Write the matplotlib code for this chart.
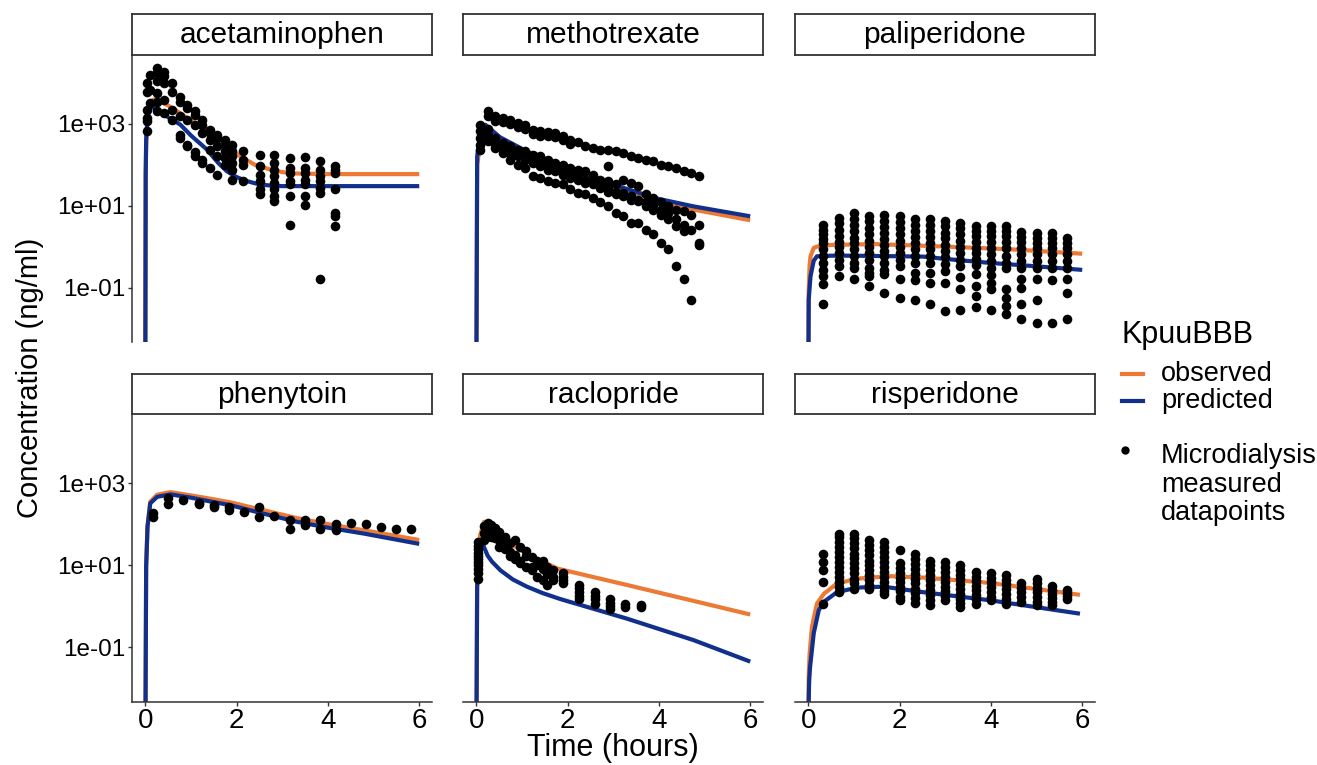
import matplotlib
matplotlib.use("Agg")
import matplotlib.pyplot as plt
from matplotlib.lines import Line2D
import numpy as np

plt.rcParams['font.family'] = ['Liberation Sans', 'DejaVu Sans']

drugs = ["acetaminophen", "methotrexate", "paliperidone", "phenytoin", "raclopride", "risperidone"]
ytick_vals = [0.1, 10, 1000]
ytick_labels = ["1e-01", "1e+01", "1e+03"]
xtick_vals = [0, 2, 4, 6]
legend_title = "KpuuBBB"
legend_lines = ["observed", "predicted"]
legend_dots = "Microdialysis\nmeasured\ndatapoints"

# ---- model lines (KpuuBBB observed / predicted) ----
acet_obs_t = [0, 0.01, 0.02, 0.05, 0.1, 0.18, 0.3, 0.5, 0.77, 1.0, 1.25, 1.49, 1.75, 2.08, 2.4, 2.74, 3.0, 3.32, 4.0, 5.0, 6.0]
acet_obs_c = [1e-4, 60, 300, 1500, 3000, 3900, 3700, 2800, 1800, 1200, 760, 490, 290, 160, 100, 76, 66, 61, 59, 59, 59]
acet_pred_t = [0, 0.01, 0.02, 0.05, 0.1, 0.15, 0.3, 0.5, 0.77, 1.0, 1.35, 1.6, 1.79, 2.0, 2.22, 2.5, 2.74, 3.0, 4.0, 5.0, 6.0]
acet_pred_c = [1e-4, 60, 400, 1500, 2300, 2600, 2000, 1450, 950, 520, 235, 110, 69, 50, 40, 33, 31, 30, 30, 30, 30]

mtx_obs_t = [0, 0.02, 0.1, 0.2, 0.52, 1.11, 1.84, 2.79, 3.95, 4.76, 6.0]
mtx_obs_c = [1e-4, 100, 400, 510, 371, 193, 91, 36, 13.5, 8.0, 4.4]
mtx_pred_t = [0, 0.02, 0.1, 0.2, 0.52, 1.11, 1.84, 2.79, 3.95, 4.76, 6.0]
mtx_pred_c = [1e-4, 160, 710, 945, 470, 211, 100, 39, 15, 9.6, 5.5]

pali_obs_t = [0, 0.01, 0.03, 0.05, 0.12, 0.19, 0.5, 1.5, 2.5, 3.5, 4.5, 6.0]
pali_obs_c = [1e-4, 0.08, 0.35, 0.58, 0.93, 1.0, 1.1, 1.15, 1.05, 0.95, 0.85, 0.67]
pali_pred_t = [0, 0.01, 0.05, 0.12, 0.19, 0.5, 1.0, 2.0, 2.52, 3.0, 3.98, 5.0, 6.0]
pali_pred_c = [1e-4, 0.05, 0.19, 0.45, 0.58, 0.6, 0.6, 0.58, 0.57, 0.50, 0.40, 0.33, 0.27]

phen_obs_t = [0, 0.02, 0.05, 0.11, 0.26, 0.55, 1.0, 1.4, 1.86, 2.5, 3.32, 4.0, 4.78, 6.0]
phen_obs_c = [1e-4, 10, 95, 350, 520, 600, 500, 420, 340, 230, 140, 100, 71, 41]
phen_pred_t = [0, 0.02, 0.05, 0.11, 0.26, 0.55, 1.0, 1.4, 1.86, 2.5, 3.32, 4.0, 4.78, 6.0]
phen_pred_c = [1e-4, 9.1, 86, 320, 460, 530, 440, 360, 290, 190, 114, 82, 59, 33]

racl_obs_t = [0, 0.02, 0.08, 0.17, 0.38, 0.74, 1.11, 1.47, 1.77, 3.3, 4.76, 6.0]
racl_obs_c = [1e-4, 5, 50, 114, 65, 34, 19, 12, 8.3, 3.3, 1.35, 0.63]
racl_pred_t = [0, 0.02, 0.06, 0.12, 0.18, 0.25, 0.35, 0.53, 0.8, 1.11, 1.45, 1.84, 3.3, 4.76, 6.0]
racl_pred_c = [1e-4, 3, 20, 37, 26, 17, 12, 7.5, 4.5, 3.0, 2.1, 1.5, 0.5, 0.15, 0.045]

risp_obs_t = [0, 0.01, 0.03, 0.08, 0.19, 0.34, 0.63, 1.07, 1.79, 2.52, 3.98, 5.95]
risp_obs_c = [1e-4, 0.02, 0.07, 0.31, 1.16, 2.0, 3.6, 4.7, 5.4, 5.0, 3.7, 1.9]
risp_pred_t = [0, 0.01, 0.02, 0.04, 0.12, 0.23, 0.34, 0.63, 1.07, 1.65, 2.52, 3.98, 5.95]
risp_pred_c = [1e-4, 0.005, 0.015, 0.033, 0.22, 0.8, 1.28, 2.2, 2.85, 3.0, 2.2, 1.4, 0.66]

# ---- microdialysis datapoints: sampling time -> measured concentrations ----
acet_pt_t = [0.04, 0.1, 0.26, 0.4, 0.58, 0.77, 0.91, 1.09, 1.24, 1.42, 1.57, 1.75, 1.9, 2.15, 2.52, 2.81, 3.17, 3.5, 3.83, 4.16]
acet_pt_c = [
    [9800, 6100, 2200, 1375, 1140, 650],
    [15700, 6700, 3200],
    [22800, 17200, 10800, 5600, 3500, 2000],
    [18900, 14300, 9800, 3850, 1820],
    [9800, 6100, 2200, 1250],
    [4600, 3500, 1510, 540, 450],
    [2900, 2400, 1250, 310, 280],
    [2000, 1660, 945, 210, 160],
    [1250, 945, 590, 132, 110],
    [715, 590, 407, 232, 83],
    [540, 447, 280, 160, 57],
    [407, 307, 211, 145, 100],
    [307, 211, 160, 110, 75, 43],
    [211, 132, 100, 39],
    [175, 91, 57, 39, 25, 19],
    [175, 110, 75, 52, 36, 25, 17, 13],
    [145, 83, 63, 39, 33, 17, 3.4],
    [154, 83, 63, 43, 33, 17, 10.6],
    [121, 75, 52, 39, 27, 20, 0.16],
    [95, 75, 63, 25, 6.6, 5.5, 3.1],
]

mtx_pt_t = [0.08, 0.25, 0.41, 0.58, 0.74, 0.91, 1.07, 1.24, 1.40, 1.57, 1.73, 1.90, 2.06, 2.23, 2.39,
            2.56, 2.72, 2.89, 3.05, 3.22, 3.38, 3.55, 3.71, 3.88, 4.04, 4.21, 4.37, 4.54, 4.70, 4.87]
mtx_pt_c = [
    [945, 650, 447, 232, 300], [2000, 750, 540, 371, 1590], [1510, 447, 255, 337, 1190, 307],
    [1375, 337, 193, 280, 1080, 255], [1250, 280, 132, 232, 980, 193], [1040, 232, 100, 193, 820, 160],
    [945, 211, 83, 160, 750, 132], [715, 175, 52, 132, 560, 110], [650, 160, 47, 110, 505, 91],
    [615, 132, 39, 91, 490, 75], [590, 110, 36, 83, 470, 69], [510, 100, 33, 69, 407, 57],
    [407, 83, 25, 63, 325, 47], [350, 75, 20, 52, 43], [280, 69, 19, 43, 36],
    [255, 57, 15, 39, 33], [232, 43, 12, 33, 27], [232, 39, 9.6, 27, 22, 91],
    [211, 33, 6.6, 22, 19], [193, 43, 5.5, 20, 17], [166, 36, 3.8, 17, 14],
    [145, 30, 3.8, 14, 13], [132, 19, 2.6, 12, 9.6], [121, 15, 2.0, 10.6, 8.0],
    [100, 12, 1.2, 8.0, 6.0], [91, 9.6, 0.85, 6.6, 4.6], [83, 8.0, 0.33, 4.6, 3.1],
    [69, 7.3, 0.16, 3.4, 2.4], [63, 6.0, 0.051, 2.6], [52, 3.4, 1.1, 1.2],
]

pali_pt_t = [0.33, 0.67, 1.0, 1.33, 1.67, 2.0, 2.33, 2.67, 3.0, 3.33, 3.67, 4.0, 4.33, 4.67, 5.0, 5.33, 5.67]
pali_pt_c = [
    [3.4, 2.6, 2.0, 1.5, 1.2, 0.85, 0.58, 0.40, 0.27, 0.19, 0.12, 0.039],
    [5.0, 3.8, 2.6, 1.8, 1.3, 1.0, 0.70, 0.48, 0.33, 0.19],
    [6.6, 4.6, 3.4, 2.4, 1.6, 1.2, 0.85, 0.58, 0.40, 0.30, 0.16],
    [5.5, 4.2, 2.8, 2.0, 1.4, 1.0, 0.70, 0.48, 0.30, 0.23, 0.19, 0.11],
    [5.8, 4.2, 3.0, 2.2, 1.5, 1.1, 0.80, 0.58, 0.40, 0.27, 0.21, 0.072],
    [5.5, 4.0, 2.8, 2.0, 1.4, 1.0, 0.70, 0.48, 0.33, 0.16, 0.057],
    [4.6, 3.4, 2.4, 1.7, 1.2, 0.85, 0.58, 0.40, 0.23, 0.15, 0.051],
    [4.6, 3.4, 2.4, 1.7, 1.2, 0.85, 0.58, 0.40, 0.23, 0.13, 0.039],
    [4.2, 3.1, 2.2, 1.6, 1.1, 0.8, 0.55, 0.38, 0.25, 0.13, 0.027],
    [3.8, 2.8, 2.0, 1.4, 1.0, 0.70, 0.48, 0.33, 0.18, 0.09, 0.029],
    [3.1, 2.4, 1.8, 1.3, 0.95, 0.7, 0.5, 0.35, 0.22, 0.11, 0.062, 0.033],
    [3.2, 2.4, 1.8, 1.3, 0.9, 0.65, 0.45, 0.3, 0.20, 0.13, 0.09, 0.029],
    [3.2, 2.4, 1.8, 1.3, 0.9, 0.6, 0.4, 0.30, 0.09, 0.057, 0.036, 0.022],
    [2.3, 1.7, 1.3, 0.9, 0.65, 0.45, 0.30, 0.16, 0.10, 0.039, 0.017],
    [2.2, 1.6, 1.2, 0.9, 0.65, 0.45, 0.30, 0.16, 0.051, 0.014],
    [2.1, 1.6, 1.2, 0.9, 0.65, 0.45, 0.30, 0.15, 0.014],
    [1.6, 1.2, 0.9, 0.65, 0.45, 0.30, 0.16, 0.075, 0.017],
]

phen_pt_t = [0.17, 0.5, 0.83, 1.17, 1.5, 1.83, 2.17, 2.5, 2.83, 3.17, 3.5, 3.83, 4.17, 4.5, 4.83, 5.17, 5.5, 5.83]
phen_pt_c = [
    [182, 151], [423, 307], [385], [331, 307], [290, 255], [264, 219], [200], [264, 145], [157],
    [125, 78], [125, 94], [125, 78], [100, 71], [108], [100], [86], [78], [74],
]

racl_pt_t = [0.03, 0.17, 0.25, 0.33, 0.42, 0.5, 0.63, 0.75, 0.85, 0.96, 1.1, 1.22, 1.33, 1.47, 1.55,
             1.69, 1.91, 2.24, 2.6, 2.93, 3.26, 3.6]
racl_pt_c = [
    [37, 30, 25, 20, 17, 14, 12, 10, 8.3, 6.5, 4.7],
    [90, 60, 40], [104, 86, 59], [95, 75, 49], [71, 80, 45], [65, 40, 28], [49, 34, 25],
    [34, 21, 17], [40, 17.5, 14], [28, 13, 11], [22, 17, 9.1], [16, 9.1, 7.5], [13, 10, 5.2],
    [13, 8, 4.3], [9.1, 6, 3.3], [7.5, 5.2, 4.3], [6.3, 5.2, 4.3, 3.6],
    [3.3, 2.8, 2.2, 1.8, 1.5], [2.2, 1.8, 1.5, 1.16], [1.5, 1.2, 1.0, 0.88], [1.16, 0.96], [1.06, 0.96],
]

risp_pt_t = [0.33, 0.67, 1.0, 1.33, 1.67, 2.0, 2.33, 2.67, 3.0, 3.33, 3.67, 4.0, 4.33, 4.67, 5.0, 5.33, 5.67]
risp_pt_c = [
    [19, 12, 7.5, 3.9, 1.16],
    [59, 49, 37, 28, 21, 16, 12, 9.1, 6.9, 5.2, 3.9, 3.0, 2.2],
    [57, 45, 34, 26, 19, 15, 11, 8.5, 6.3, 4.7, 3.6, 2.7],
    [41, 31, 23, 17.5, 13, 10, 7.5, 5.7, 4.3, 3.3, 2.7],
    [37, 28, 21, 16, 12, 9.1, 6.9, 5.2, 3.9, 3.0, 2.3, 2.0],
    [23, 11, 8.5, 6.5, 5.0, 3.9, 3.0, 2.3, 1.7, 1.4],
    [18.5, 14, 10.5, 8, 6.1, 4.7, 3.6, 2.7, 2.1, 1.6, 1.2],
    [13, 10, 7.5, 5.7, 4.3, 3.3, 2.5, 1.9, 1.4, 1.1],
    [12, 9.1, 6.9, 5.2, 3.9, 3.0, 2.3, 1.8, 1.4],
    [10, 7.7, 5.9, 4.5, 3.4, 2.6, 2.0, 1.5, 1.2, 0.96],
    [6.9, 5.3, 4.1, 3.2, 2.5, 1.9, 1.5, 1.16],
    [6.3, 4.9, 3.8, 2.9, 2.2, 1.7, 1.4],
    [5.7, 4.4, 3.4, 2.6, 2.0, 1.5, 1.16],
    [3.6, 2.8, 2.2, 1.7, 1.3],
    [4.7, 3.6, 2.8, 2.2, 1.7, 1.3, 1.06],
    [3.1, 2.5, 2.0, 1.6, 1.3, 1.06],
    [2.5, 2.1, 1.8, 1.5],
]

obs_lines = [(acet_obs_t, acet_obs_c), (mtx_obs_t, mtx_obs_c), (pali_obs_t, pali_obs_c),
             (phen_obs_t, phen_obs_c), (racl_obs_t, racl_obs_c), (risp_obs_t, risp_obs_c)]
pred_lines = [(acet_pred_t, acet_pred_c), (mtx_pred_t, mtx_pred_c), (pali_pred_t, pali_pred_c),
              (phen_pred_t, phen_pred_c), (racl_pred_t, racl_pred_c), (risp_pred_t, risp_pred_c)]
points = [(acet_pt_t, acet_pt_c), (mtx_pt_t, mtx_pt_c), (pali_pt_t, pali_pt_c),
          (phen_pt_t, phen_pt_c), (racl_pt_t, racl_pt_c), (risp_pt_t, risp_pt_c)]

c_obs = '#EC7A35'
c_pred = '#10308C'
edge = '#333333'

W, H = 1317, 765
fig = plt.figure(figsize=(W / 100, H / 100), dpi=100)

col_left = [132, 463, 795]
pan_w = 300
row_top = [55, 414]
row_bot = [342, 702]
strip_top = [14, 374]

for i, name in enumerate(drugs):
    r, c = i // 3, i % 3
    ax = fig.add_axes([col_left[c] / W, 1 - row_bot[r] / H, pan_w / W, (row_bot[r] - row_top[r]) / H])
    ax.set_yscale('log')
    ax.set_ylim(10 ** -2.33, 10 ** 4.68)
    ax.set_xlim(-0.29, 6.28)

    ax.plot(obs_lines[i][0], obs_lines[i][1], color=c_obs, lw=3, solid_capstyle='butt', zorder=2)
    ax.plot(pred_lines[i][0], pred_lines[i][1], color=c_pred, lw=3, solid_capstyle='butt', zorder=2)

    px, py = [], []
    for t, vals in zip(points[i][0], points[i][1]):
        for v in vals:
            px.append(t)
            py.append(v)
    ax.scatter(px, py, s=48, color='black', linewidths=0, zorder=3)

    for s in ['top', 'right']:
        ax.spines[s].set_visible(False)
    ax.spines['left'].set_visible(c == 0)
    ax.spines['bottom'].set_visible(r == 1)
    for s in ['left', 'bottom']:
        ax.spines[s].set_color(edge)
        ax.spines[s].set_linewidth(1.1)

    ax.set_yticks(ytick_vals)
    ax.set_yticklabels(ytick_labels)
    ax.yaxis.set_minor_locator(matplotlib.ticker.NullLocator())
    ax.set_xticks(xtick_vals)
    ax.tick_params(axis='y', length=3, width=1, color=edge, labelsize=17.5, pad=1.5,
                   left=(c == 0), labelleft=(c == 0))
    ax.tick_params(axis='x', length=3, width=1, color=edge, labelsize=20, pad=1.5,
                   bottom=(r == 1), labelbottom=(r == 1))

    # facet strip
    sax = fig.add_axes([col_left[c] / W, 1 - row_top[r] / H, pan_w / W, (row_top[r] - strip_top[r]) / H])
    sax.set_xticks([])
    sax.set_yticks([])
    for s in sax.spines.values():
        s.set_color(edge)
        s.set_linewidth(1.3)
    sax.text(0.5, 0.48, name, ha='center', va='center', fontsize=21.5, transform=sax.transAxes)

fig.text(30 / W, 1 - 378 / H, "Concentration (ng/ml)", rotation=90, ha='center', va='center', fontsize=21)
fig.text(613 / W, 1 - 748 / H, "Time (hours)", ha='center', va='center', fontsize=22)

# legend
fig.text(1122 / W, 1 - 335 / H, legend_title, ha='left', va='center', fontsize=22)
for k, (lab, col) in enumerate(zip(legend_lines, [c_obs, c_pred])):
    yy = 1 - (374 + 27 * k) / H
    fig.add_artist(Line2D([1122 / W, 1143 / W], [yy, yy], color=col, lw=3, transform=fig.transFigure))
    fig.text(1161 / W, yy, lab, ha='left', va='center', fontsize=19.5)
fig.add_artist(Line2D([1125 / W], [1 - 450 / H], marker='o', ms=5, color='black', lw=0, transform=fig.transFigure))
fig.text(1161 / W, 1 - 443 / H, legend_dots, ha='left', va='top', fontsize=19.5, linespacing=1.13)

fig.savefig("out.png", dpi=100, facecolor='white')
